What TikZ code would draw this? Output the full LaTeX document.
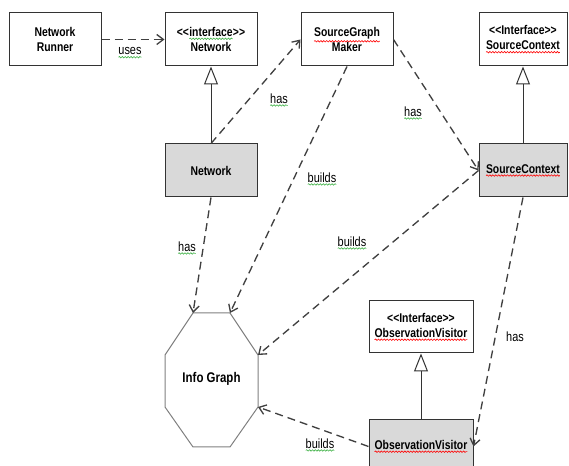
\documentclass[tikz,border=0pt]{standalone}
\usepackage{fontspec}
\usetikzlibrary{arrows.meta,decorations.pathmorphing}
\setmainfont{Liberation Sans}
\newfontfamily\narrowfont[FakeStretch=0.82]{Liberation Sans}

\definecolor{cfill}{HTML}{D9D9D9}
\definecolor{cline}{HTML}{333333}
\definecolor{cdash}{HTML}{404040}
\definecolor{cocta}{HTML}{808080}
\definecolor{spellg}{HTML}{3CB043}
\definecolor{spellr}{HTML}{FF0000}

\newcommand\wavy[2]{\tikz[baseline=(w.base)]{\node[shape=rectangle, draw=none, fill=none,
    inner sep=0pt, outer sep=0pt, minimum width=0pt, minimum height=0pt] (w) {#2};
  \draw[#1, line width=0.45pt, decorate, decoration={snake,amplitude=0.55pt,segment length=2.2pt}]
    ([yshift=-1.6pt]w.south west) -- ([yshift=-1.6pt]w.south east);}}

\tikzset{
  cls/.style={draw=cline, line width=0.75pt, fill=white, align=center, inner sep=0pt,
    minimum width=69pt, minimum height=39.75pt,
    font=\narrowfont\bfseries\fontsize{9.5}{11.25}\selectfont},
  impl/.style={cls, fill=cfill},
  lbl/.style={font=\narrowfont\fontsize{10}{12}\selectfont, inner sep=0pt},
  dep/.style={cdash, line width=1pt, dash pattern=on 6pt off 3.75pt,
    -{Straight Barb[length=5pt,width=7.5pt]}},
  inh/.style={cline, line width=0.75pt, -{Triangle[open,length=13.5pt,width=10.5pt,fill=white]}},
}

\begin{document}
\begin{tikzpicture}[x=0.75pt,y=-0.75pt]
  \useasboundingbox (0,0) rectangle (569,466);
  \clip (0,0) rectangle (569,466);

  \node[cls] (runner) at (55,39.5) {Network\\Runner};
  \node[cls] (inet) at (211,39.5) {<\kern0pt<\wavy{spellg}{interface}>\kern0pt>\\Network};
  \node[cls] (maker) at (347,39.5) {\wavy{spellr}{SourceGraph}\\Maker};
  \node[cls, minimum width=66pt] (isc) at (523,39.5) {<\kern0pt<Interface>\kern0pt>\\\wavy{spellr}{SourceContext}};
  \node[impl] (net) at (211,170.5) {Network};
  \node[impl, minimum width=66pt] (sc) at (523,170.5) {\wavy{spellr}{SourceContext}};
  \node[cls, minimum width=78pt, minimum height=39pt] (iov) at (421,327) {<\kern0pt<Interface>\kern0pt>\\\wavy{spellr}{ObservationVisitor}};
  \node[impl, minimum width=78pt] (ov) at (421,446.5) {\wavy{spellr}{ObservationVisitor}};

  \coordinate (ig1) at (193,313);
  \coordinate (ig2) at (230,313);
  \coordinate (ig3) at (258,355);
  \coordinate (ig4) at (258,407);
  \coordinate (ig5) at (230,447);
  \coordinate (ig6) at (193,447);
  \coordinate (ig7) at (165,407);
  \coordinate (ig8) at (165,355);
  \draw[cocta, line width=0.75pt] (ig1) -- (ig2) -- (ig3) -- (ig4) -- (ig5) -- (ig6) -- (ig7) -- (ig8) -- cycle;
  \node[font=\narrowfont\bfseries\fontsize{10.5}{12}\selectfont] (info) at (211.5,379) {Info Graph};

  \draw[inh] (net) -- (inet);
  \draw[inh] (sc) -- (isc);
  \draw[inh] (ov) -- (iov);

  \draw[dep] (runner.east) -- (inet.west);
  \draw[dep] (net.north) -- (maker.west);
  \draw[dep] (maker.east) -- (sc.west);
  \draw[dep] (maker.south) -- (ig2);
  \draw[dep] (net.south) -- (ig1);
  \draw[dep] (sc.west) -- (ig3);
  \draw[dep] (sc.south) -- (ov.east);
  \draw[dep] (ov.west) -- (ig4);

  \node[lbl] (uses) at (130,53) {\wavy{spellg}{uses}};
  \node[lbl] (has1) at (279,100) {\wavy{spellg}{has}};
  \node[lbl] (has2) at (413,113) {\wavy{spellg}{has}};
  \node[lbl] (builds1) at (322,179) {\wavy{spellg}{builds}};
  \node[lbl] (has3) at (187,248) {\wavy{spellg}{has}};
  \node[lbl] (builds2) at (352,243) {\wavy{spellg}{builds}};
  \node[lbl] (has4) at (515,337) {has};
  \node[lbl] (builds3) at (320,445) {\wavy{spellg}{builds}};
\end{tikzpicture}
\end{document}
